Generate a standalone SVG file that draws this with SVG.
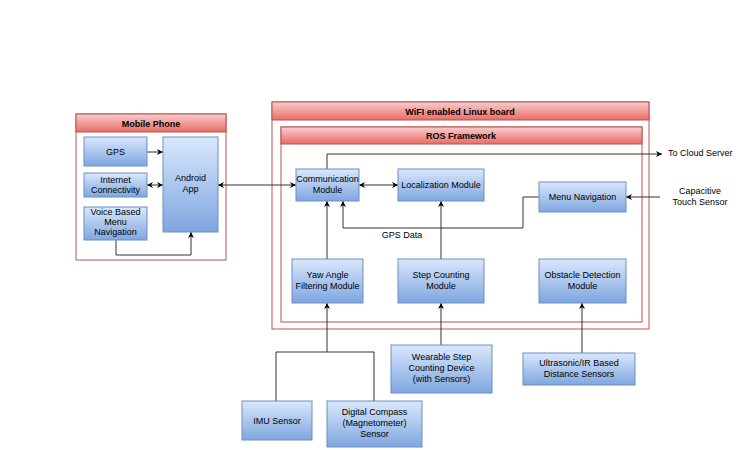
<svg xmlns="http://www.w3.org/2000/svg" width="740" height="450" viewBox="0 0 740 450">
<defs>
<linearGradient id="blue" x1="0" y1="0" x2="0" y2="1"><stop offset="0" stop-color="#dae8fc"/><stop offset="1" stop-color="#7ea6e0"/></linearGradient>
<linearGradient id="red" x1="0" y1="0" x2="0" y2="1"><stop offset="0" stop-color="#f8cecc"/><stop offset="1" stop-color="#ea6b66"/></linearGradient>
<marker id="ah" viewBox="0 0 10 10" refX="10" refY="5" markerWidth="6" markerHeight="6" orient="auto-start-reverse" markerUnits="userSpaceOnUse"><path d="M0,0 L10,5 L0,10 L3,5 Z" fill="#000"/></marker>
</defs>
<style>
.box{fill:url(#blue);stroke:#6c8ebf;stroke-width:1}
.hdr{fill:url(#red);stroke:#b85450;stroke-width:1}
.cont{fill:#fff;stroke:#b85450;stroke-width:1}
text{font-family:"Liberation Sans",Arial,sans-serif;font-size:9px;fill:#000;text-anchor:middle}
.b{font-weight:bold}
.l{text-anchor:start}
.c{fill:none;stroke:#333;stroke-width:1}
.a{marker-end:url(#ah)}
.d{marker-start:url(#ah);marker-end:url(#ah)}
</style>
<rect width="740" height="450" fill="#fff"/>

<g id="mobile-phone">
<rect class="cont" x="76" y="114" width="150" height="146"/>
<rect class="hdr" x="76" y="114" width="150" height="18"/>
<text class="b" x="151" y="126.5">Mobile Phone</text>
</g>
<g id="wifi-board">
<rect class="cont" x="272" y="102" width="377" height="227"/>
<rect class="hdr" x="272" y="102" width="377" height="18"/>
<text class="b" x="460" y="114.5">WiFI enabled Linux board</text>
</g>
<g id="ros-framework">
<rect class="cont" x="281" y="127" width="361" height="195"/>
<rect class="hdr" x="281" y="127" width="361" height="17"/>
<text class="b" x="461" y="138.5">ROS Framework</text>
</g>

<g id="connectors">
<path class="c a" d="M147,152 H163"/>
<path class="c d" d="M147,185 H163"/>
<path class="c a" d="M116,240 V255 H191 V232"/>
<path class="c d" d="M218,185 H296"/>
<path class="c a" d="M327,169 V154 H662"/>
<path class="c d" d="M359,185 H398"/>
<path class="c a" d="M539,197 H523 V228 H343 V201"/>
<path class="c a" d="M327,259 V201"/>
<path class="c a" d="M441,259 V201"/>
<path class="c a" d="M660,197 H626"/>
<path class="c a" d="M276,401 V352 H374 V401 M327,352 V303"/>
<path class="c a" d="M441,345 V303"/>
<path class="c a" d="M582,353 V303"/>
</g>

<g id="gps"><rect class="box" x="84" y="137" width="63" height="29"/><text x="115.5" y="154.5">GPS</text></g>
<g id="internet"><rect class="box" x="84" y="173" width="63" height="24"/><text x="115.5" y="183">Internet</text><text x="115.5" y="193">Connectivity</text></g>
<g id="voice"><rect class="box" x="84" y="207" width="63" height="33"/><text x="115.5" y="215">Voice Based</text><text x="115.5" y="225">Menu</text><text x="115.5" y="235">Navigation</text></g>
<g id="android"><rect class="box" x="163" y="137" width="55" height="95"/><text x="190.5" y="181">Android</text><text x="190.5" y="192">App</text></g>

<g id="communication"><rect class="box" x="296" y="169" width="63" height="32"/><text x="327.5" y="182">Communication</text><text x="327.5" y="193">Module</text></g>
<g id="localization"><rect class="box" x="398" y="169" width="86" height="32"/><text x="441" y="188">Localization Module</text></g>
<g id="menu-navigation"><rect class="box" x="539" y="182" width="87" height="30"/><text x="582.5" y="200">Menu Navigation</text></g>
<g id="yaw"><rect class="box" x="292" y="259" width="71" height="44"/><text x="327.5" y="278">Yaw Angle</text><text x="327.5" y="289">Filtering Module</text></g>
<g id="step-counting"><rect class="box" x="398" y="259" width="86" height="44"/><text x="441" y="278">Step Counting</text><text x="441" y="289">Module</text></g>
<g id="obstacle"><rect class="box" x="539" y="259" width="87" height="44"/><text x="582.5" y="278">Obstacle Detection</text><text x="582.5" y="289">Module</text></g>

<g id="wearable"><rect class="box" x="391" y="345" width="101" height="48"/><text x="441.5" y="360">Wearable Step</text><text x="441.5" y="371">Counting Device</text><text x="441.5" y="382">(with Sensors)</text></g>
<g id="ultrasonic"><rect class="box" x="523" y="353" width="112" height="32"/><text x="579" y="366">Ultrasonic/IR Based</text><text x="579" y="377">Distance Sensors</text></g>
<g id="imu"><rect class="box" x="242" y="401" width="70" height="39"/><text x="277" y="423.5">IMU Sensor</text></g>
<g id="compass"><rect class="box" x="327" y="401" width="95" height="46"/><text x="374.5" y="415">Digital Compass</text><text x="374.5" y="426">(Magnetometer)</text><text x="374.5" y="437">Sensor</text></g>

<g id="labels">
<text x="402" y="238">GPS Data</text>
<text class="l" x="668" y="156">To Cloud Server</text>
<text x="700" y="194">Capacitive</text>
<text x="700" y="205">Touch Sensor</text>
</g>
</svg>
